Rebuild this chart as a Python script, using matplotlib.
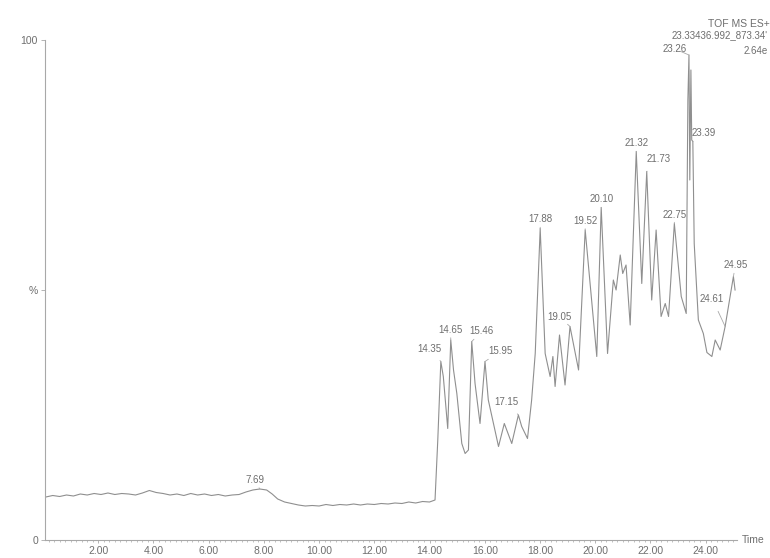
import numpy as np
import matplotlib
matplotlib.use("Agg")
import matplotlib.pyplot as plt
from matplotlib.ticker import MultipleLocator

plt.rcParams["font.family"] = ["Liberation Sans", "DejaVu Sans"]

# retention time (min) and relative intensity (%)
rt = [0.10, 0.35, 0.60, 0.85, 1.10, 1.35, 1.60, 1.85, 2.10, 2.35, 2.60, 2.85,
      3.10, 3.35, 3.60, 3.85, 4.10, 4.35, 4.60, 4.85, 5.10, 5.35, 5.60, 5.85,
      6.10, 6.35, 6.60, 6.85, 7.10, 7.35, 7.60, 7.85, 8.10, 8.30, 8.50, 8.75,
      9.00, 9.25, 9.50, 9.75, 10.00, 10.25, 10.50, 10.75, 11.00, 11.25, 11.50,
      11.75, 12.00, 12.25, 12.50, 12.75, 13.00, 13.25, 13.50, 13.75, 14.00, 14.20,
      14.30, 14.41, 14.50, 14.66, 14.77, 14.87, 14.99, 15.17, 15.29, 15.41,
      15.53, 15.65, 15.83, 16.01, 16.13, 16.26, 16.50, 16.71, 16.98, 17.22,
      17.34, 17.55, 17.70, 17.83, 18.01, 18.19, 18.37, 18.47, 18.55, 18.71,
      18.91, 19.09, 19.40, 19.64, 20.06, 20.22, 20.45, 20.66, 20.76, 20.91,
      21.00, 21.12, 21.27, 21.49, 21.69, 21.87, 22.05, 22.21, 22.39, 22.54,
      22.66, 22.87, 23.12, 23.30, 23.36, 23.40, 23.43, 23.47, 23.50, 23.54,
      23.59, 23.74, 23.92, 24.05, 24.23, 24.35, 24.53, 24.71, 24.89, 25.01, 25.07]
intensity = [8.6, 8.9, 8.7, 9.0, 8.8, 9.2, 9.0, 9.3, 9.1, 9.4, 9.1, 9.3,
             9.2, 9.0, 9.4, 9.9, 9.5, 9.3, 9.0, 9.2, 8.9, 9.3, 9.0, 9.2,
             8.9, 9.1, 8.8, 9.0, 9.1, 9.6, 10.0, 10.2, 10.0, 9.2, 8.2, 7.6,
             7.3, 7.0, 6.8, 6.9, 6.8, 7.1, 6.9, 7.1, 7.0, 7.2, 7.0,
             7.2, 7.1, 7.3, 7.2, 7.4, 7.3, 7.6, 7.4, 7.7, 7.6, 8.0,
             20.0, 35.7, 32.7, 22.3, 40.0, 34.0, 29.3, 19.3, 17.3, 18.0,
             39.7, 31.3, 23.3, 35.7, 28.0, 24.7, 18.7, 23.3, 19.3, 25.0,
             22.7, 20.3, 28.0, 37.3, 62.3, 37.3, 32.7, 36.7, 30.7, 41.0,
             31.0, 42.7, 34.0, 62.0, 36.7, 66.5, 37.3, 52.0, 50.0, 57.0,
             53.3, 55.0, 43.0, 77.7, 51.3, 73.7, 48.0, 62.0, 44.7, 47.3,
             44.7, 63.3, 48.7, 45.3, 88.0, 97.0, 72.0, 94.0, 80.0, 79.7,
             59.3, 44.0, 41.3, 37.5, 36.7, 40.0, 38.0, 42.7, 48.7, 52.7, 50.0]

# peak labels and the retention time of the apex they point to
peak_labels = ["7.69", "14.35", "14.65", "15.46", "15.95", "17.15", "17.88",
               "19.05", "19.52", "20.10", "21.32", "21.73", "22.75", "23.26",
               "23.39", "24.61", "24.95"]
peak_rt = [7.85, 14.41, 14.77, 15.53, 16.01, 17.22, 18.01, 19.09, 19.64,
           20.22, 21.49, 21.87, 22.87, 23.40, 23.54, 24.71, 25.01]
# label offsets from the apex, in pixels
label_offsets = [(-5, 9), (-11, 13), (0, 10), (10, 10), (15, 10), (-12, 13),
                 (0, 9), (-11, 10), (0, 9), (0, 8), (0, 8), (12, 12), (0, 9),
                 (-14, 6), (11, 8), (-13, 28), (2, 11)]

major_ticks = [2, 4, 6, 8, 10, 12, 14, 16, 18, 20, 22, 24]
major_labels = ["%.2f" % v for v in major_ticks]

line_col = "#8f8f8f"
text_col = "#6e6e6e"
axis_col = "#a8a8a8"

fig = plt.figure(figsize=(7.7, 5.58), dpi=100)
ax = fig.add_axes([45 / 770, 18 / 558, 692 / 770, 500 / 558])

ax.plot(rt, intensity, color=line_col, linewidth=0.8)

for lab, prt, off in zip(peak_labels, peak_rt, label_offsets):
    py = np.interp(prt, rt, intensity)
    ax.annotate(lab, xy=(prt, py), xytext=off, textcoords="offset pixels",
                ha="center", va="center", fontsize=7, color=text_col,
                annotation_clip=False,
                arrowprops=dict(arrowstyle="-", color=axis_col, lw=0.6,
                                shrinkA=4, shrinkB=0))

ax.set_xlim(0.07, 25.14)
ax.set_ylim(0, 100)

for s in ["top", "right"]:
    ax.spines[s].set_visible(False)
for s in ["left", "bottom"]:
    ax.spines[s].set_color(axis_col)
    ax.spines[s].set_linewidth(0.8)

ax.set_xticks(major_ticks)
ax.set_xticklabels(major_labels)
ax.xaxis.set_minor_locator(MultipleLocator(0.2))
ax.tick_params(axis="x", which="major", length=2.5, width=0.6, color=axis_col,
               labelsize=7.5, labelcolor=text_col, pad=1.5)
ax.tick_params(axis="x", which="minor", length=1.5, width=0.5, color=axis_col)

ax.set_yticks([0, 50, 100])
ax.set_yticklabels(["0", "%", "100"])
ax.tick_params(axis="y", length=3, width=0.6, color=axis_col,
               labelsize=7.5, labelcolor=text_col, pad=2)

ax.text(1.007, 0, "Time", transform=ax.transAxes, ha="left", va="center",
        fontsize=7.5, color=text_col)

fig.text(770 / 770, 1 - 24 / 558, "TOF MS ES+", ha="right", va="center",
         fontsize=7.5, color=text_col)
fig.text(768 / 770, 1 - 35 / 558, "23.33436.992_873.34'", ha="right",
         va="center", fontsize=7, color=text_col)
fig.text(768 / 770, 1 - 51 / 558, "2.64e", ha="right", va="center",
         fontsize=7, color=text_col)

fig.savefig("out.png", dpi=100)
